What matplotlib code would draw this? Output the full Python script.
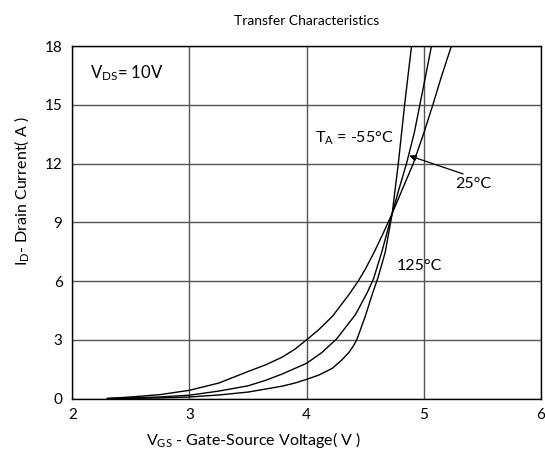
import matplotlib
matplotlib.use("Agg")
import matplotlib.pyplot as plt

plt.rcParams['font.family'] = ['Lato', 'DejaVu Sans']
plt.rcParams['mathtext.fontset'] = 'custom'
plt.rcParams['mathtext.rm'] = 'Lato'
plt.rcParams['mathtext.it'] = 'Lato'

# datos (Vgs en V, Id en A)
vgs_125 = [2.3, 2.5, 2.75, 3.0, 3.25, 3.5, 3.65, 3.79, 3.9, 4.0, 4.1, 4.22, 4.36, 4.44, 4.50,
           4.575, 4.65, 4.73, 4.816, 4.91, 5.0, 5.077, 5.15, 5.235]
id_125 = [0.0, 0.08, 0.2, 0.42, 0.79, 1.38, 1.72, 2.11, 2.52, 3.0, 3.5, 4.2, 5.3, 6.0, 6.6,
          7.46, 8.4, 9.45, 10.68, 12.0, 13.56, 15.0, 16.44, 18.0]

vgs_25 = [2.3, 2.5, 2.75, 3.0, 3.25, 3.5, 3.65, 3.79, 4.0, 4.13, 4.255, 4.417, 4.516, 4.57,
          4.64, 4.73, 4.787, 4.852, 4.918, 4.966, 5.014, 5.065]
id_25 = [0.0, 0.03, 0.08, 0.17, 0.38, 0.65, 0.93, 1.25, 1.80, 2.35, 3.04, 4.29, 5.4, 6.1,
         7.46, 9.45, 10.68, 12.0, 13.56, 15.0, 16.44, 18.0]

vgs_m55 = [2.3, 2.5, 2.75, 3.0, 3.25, 3.5, 3.79, 3.9, 4.0, 4.105, 4.218, 4.30, 4.36, 4.40, 4.43,
           4.50, 4.564, 4.61, 4.67, 4.73, 4.755, 4.782, 4.81, 4.836, 4.864, 4.895]
id_m55 = [0.0, 0.01, 0.03, 0.08, 0.18, 0.33, 0.63, 0.79, 0.98, 1.2, 1.54, 1.97, 2.35, 2.7, 3.04,
          4.2, 5.4, 6.2, 7.46, 9.45, 10.68, 12.0, 13.56, 15.0, 16.44, 18.0]

x_ticks = [2, 3, 4, 5, 6]
y_ticks = [0, 3, 6, 9, 12, 15, 18]

fig = plt.figure(figsize=(5.45, 4.5), dpi=100)
ax = fig.add_axes([0.1327, 0.1144, 0.860, 0.7833])

for vx, iy in [(vgs_125, id_125), (vgs_25, id_25), (vgs_m55, id_m55)]:
    ax.plot(vx, iy, color='black', lw=1.0)

ax.set_xlim(2, 6)
ax.set_ylim(0, 18)
ax.set_xticks(x_ticks)
ax.set_yticks(y_ticks)
ax.tick_params(length=0, labelsize=11, pad=7)
ax.grid(True, color='#555555', lw=1.0)
for s in ax.spines.values():
    s.set_color('black')
    s.set_linewidth(1.0)

ax.set_title("Transfer Characteristics", fontsize=10, pad=15)
ax.set_xlabel(r"V$_{\mathrm{GS}}$ - Gate-Source Voltage( V )", fontsize=11.5)
ax.xaxis.set_label_coords(0.387, -0.118)
ax.xaxis.label.set_va('center')
ax.set_ylabel(r"I$_{\mathrm{D}}$- Drain Current( A )", fontsize=11.5)
ax.yaxis.set_label_coords(-0.108, 0.589)
ax.yaxis.label.set_va('center')

ax.text(2.15, 16.6, r"V$_{\mathrm{DS}}$= 10V", fontsize=12, va='center')
ax.text(4.07, 13.3, r"T$_{\mathrm{A}}$ = -55°C", fontsize=11.5, va='center')
ax.text(5.265, 10.95, "25°C", fontsize=11.5, va='center')
ax.text(4.77, 6.77, "125°C", fontsize=11.5, va='center')

ax.annotate("", xy=(4.875, 12.4), xytext=(5.335, 11.47),
            arrowprops=dict(arrowstyle='-|>', color='black', lw=0.9,
                            mutation_scale=10, shrinkA=0, shrinkB=0))

plt.savefig("out.png", dpi=100)
